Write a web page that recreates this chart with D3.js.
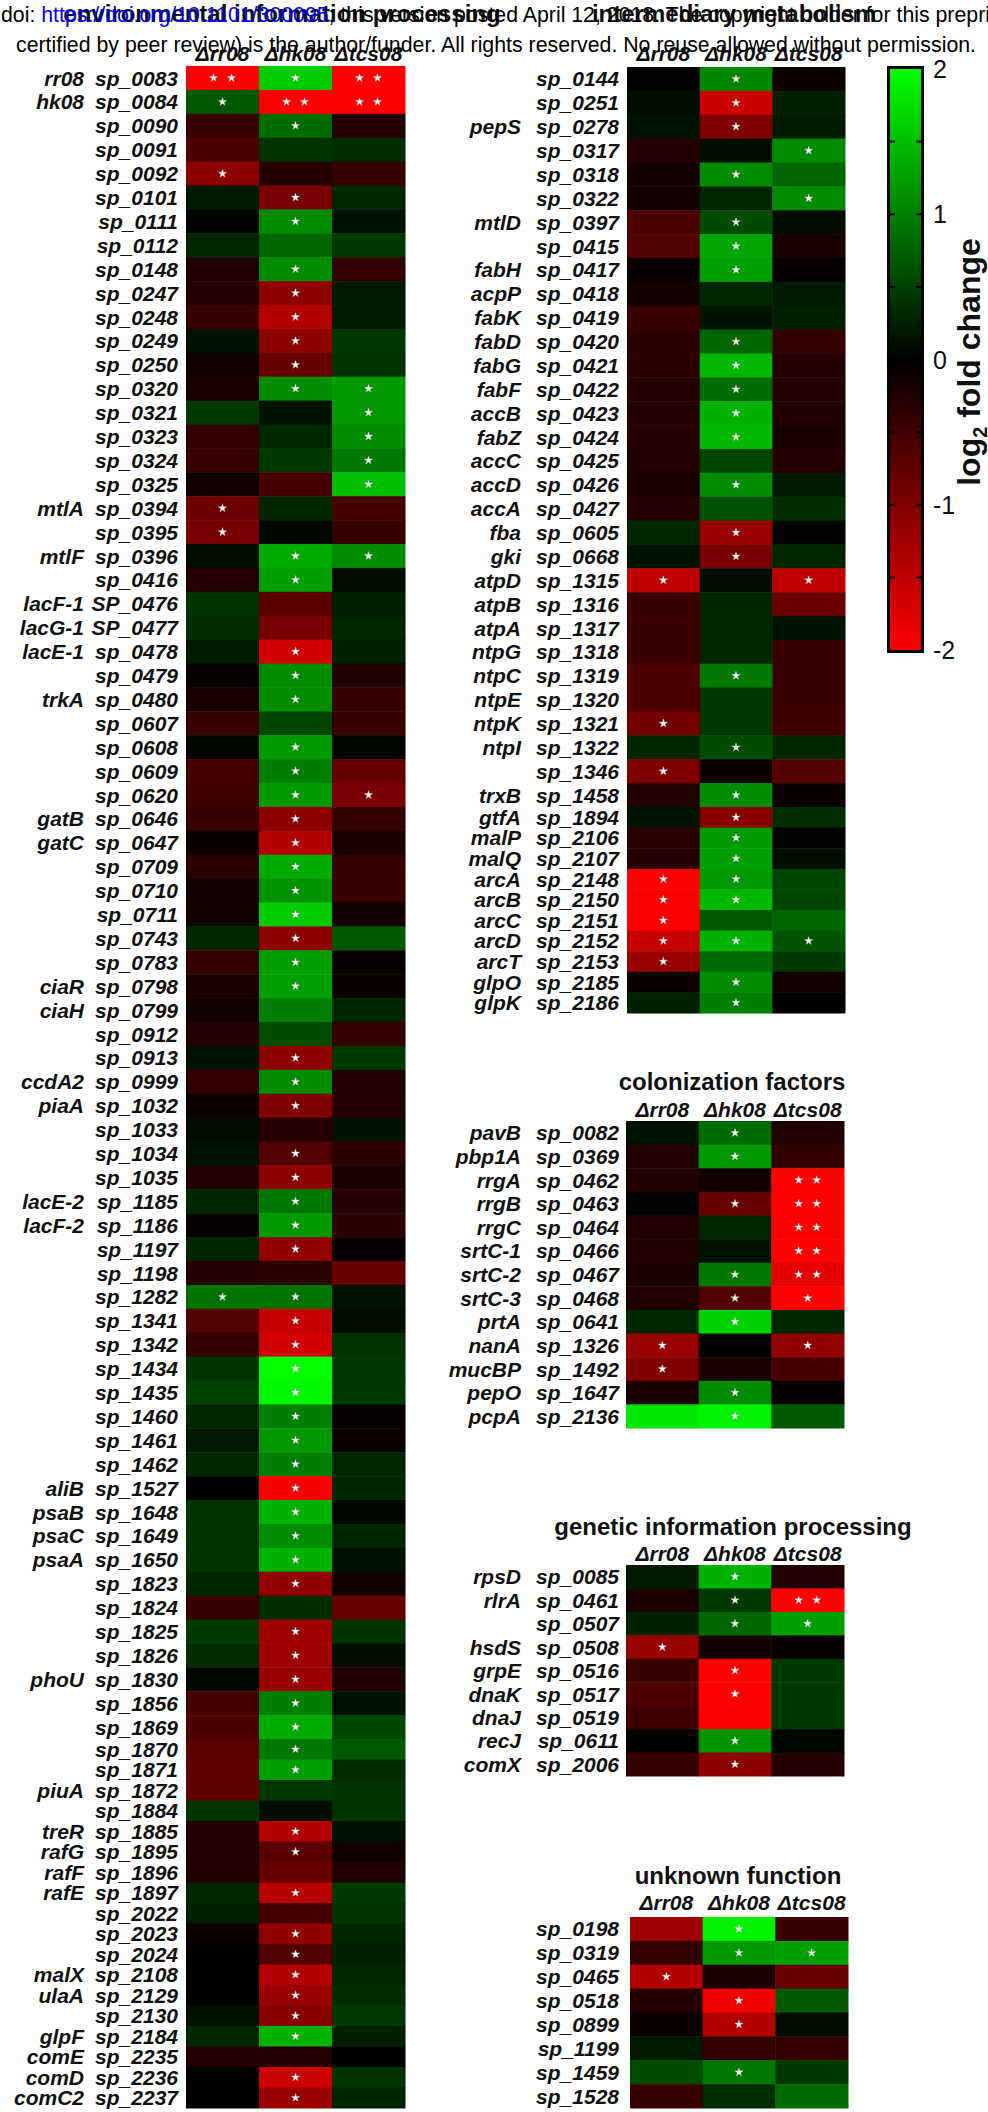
<!DOCTYPE html>
<html>
<head>
<meta charset="utf-8">
<script src="https://cdn.jsdelivr.net/npm/d3@7"></script>
<style>
  body { margin: 0; background: #ffffff; }
  svg { display: block; }
</style>
</head>
<body>
<svg id="fig" width="988" height="2112"></svg>
<script>
// ---------- strains (columns) ----------
const strains = ["\u0394rr08", "\u0394hk08", "\u0394tcs08"];

// ---------- environmental information processing ----------
const envLocus = ["sp_0083","sp_0084","sp_0090","sp_0091","sp_0092","sp_0101","sp_0111","sp_0112","sp_0148","sp_0247",
  "sp_0248","sp_0249","sp_0250","sp_0320","sp_0321","sp_0323","sp_0324","sp_0325","sp_0394","sp_0395",
  "sp_0396","sp_0416","SP_0476","SP_0477","sp_0478","sp_0479","sp_0480","sp_0607","sp_0608","sp_0609",
  "sp_0620","sp_0646","sp_0647","sp_0709","sp_0710","sp_0711","sp_0743","sp_0783","sp_0798","sp_0799",
  "sp_0912","sp_0913","sp_0999","sp_1032","sp_1033","sp_1034","sp_1035","sp_1185","sp_1186","sp_1197",
  "sp_1198","sp_1282","sp_1341","sp_1342","sp_1434","sp_1435","sp_1460","sp_1461","sp_1462","sp_1527",
  "sp_1648","sp_1649","sp_1650","sp_1823","sp_1824","sp_1825","sp_1826","sp_1830","sp_1856","sp_1869",
  "sp_1870","sp_1871","sp_1872","sp_1884","sp_1885","sp_1895","sp_1896","sp_1897","sp_2022","sp_2023",
  "sp_2024","sp_2108","sp_2129","sp_2130","sp_2184","sp_2235","sp_2236","sp_2237"];
const envGene = ["rr08","hk08","","","","","","","","",
  "","","","","","","","","mtlA","",
  "mtlF","","lacF-1","lacG-1","lacE-1","","trkA","","","",
  "","gatB","gatC","","","","","","ciaR","ciaH",
  "","","ccdA2","piaA","","","","lacE-2","lacF-2","",
  "","","","","","","","","","aliB",
  "psaB","psaC","psaA","","","","","phoU","","",
  "","","piuA","","treR","rafG","rafF","rafE","","",
  "","malX","ulaA","","glpF","comE","comD","comC2"];
const envRr08 = [-2,0.7,-0.45,-0.6,-1.1,0.2,0.02,0.3,-0.25,-0.3,
  -0.45,0.15,-0.15,-0.2,0.45,-0.4,-0.45,-0.15,-0.85,-0.95,
  0.1,-0.3,0.4,0.35,0.2,-0.05,-0.2,-0.45,0.05,-0.55,
  -0.5,-0.45,-0.1,-0.35,-0.15,-0.15,0.3,-0.45,-0.2,-0.15,
  -0.3,0.15,-0.4,-0.1,0.1,0.15,-0.25,0.3,-0.05,0.3,
  -0.3,0.9,-0.65,-0.4,0.4,0.5,0.3,0.2,0.3,0,
  0.4,0.4,0.4,0.3,-0.45,0.45,0.35,0.05,-0.55,-0.6,
  -0.7,-0.75,-0.75,0.4,-0.25,-0.25,-0.25,0.3,0.25,-0.1,
  0,0,0,0.15,0.3,-0.3,0,0];
const envHk08 = [1.6,-2,0.85,0.4,-0.3,-0.95,1.1,0.8,1.1,-1.1,
  -1.4,-1.1,-0.8,1.1,0.15,0.3,0.45,-0.55,0.3,0.05,
  1.35,1.25,-0.7,-0.95,-1.65,1.1,1.1,0.55,1.2,1.0,
  1.2,-1.1,-1.4,1.35,1.15,1.6,-1.1,1.25,1.25,1.0,
  0.6,-1.1,1.1,-1.0,-0.3,-0.65,-1.1,0.95,1.2,-1.15,
  -0.35,0.9,-1.55,-1.65,2.0,1.95,1.0,1.2,1.0,-1.95,
  1.4,1.1,1.4,-1.15,0.35,-1.25,-1.25,-1.2,1.0,1.35,
  0.95,1.25,0.45,0.1,-1.4,-0.7,-0.8,-1.45,-0.55,-1.15,
  -0.65,-1.4,-1.2,-1.05,1.4,-0.3,-1.6,-1.2];
const envTcs08 = [-2,-2,-0.3,0.35,-0.45,0.3,0.15,0.45,-0.4,0.2,
  0.2,0.45,0.4,1.2,1.2,1.1,0.95,1.5,-0.55,-0.45,
  1.1,0.1,0.25,0.3,0.25,-0.25,-0.45,-0.45,0.05,-0.8,
  -0.95,-0.4,-0.2,-0.45,-0.45,-0.15,0.7,-0.05,-0.1,0.3,
  -0.4,0.45,-0.25,-0.3,0.15,-0.35,-0.2,-0.3,-0.35,-0.05,
  -0.8,0.15,0.1,0.4,0.45,0.45,-0.05,-0.1,0.3,0.3,
  0.05,0.3,0.15,-0.15,-0.8,0.4,0.1,-0.25,0.15,0.55,
  0.7,0.35,0.4,0.4,0.15,-0.15,-0.25,0.45,0.4,0.3,
  0.25,0.3,0.35,0.45,0.25,0,0.4,0.3];
// significance markers: 0 none, 1 one star, 2 two stars
const envStarRr08 = [2,1,0,0,1,0,0,0,0,0, 0,0,0,0,0,0,0,0,1,1, 0,0,0,0,0,0,0,0,0,0,
  0,0,0,0,0,0,0,0,0,0, 0,0,0,0,0,0,0,0,0,0, 0,1,0,0,0,0,0,0,0,0,
  0,0,0,0,0,0,0,0,0,0, 0,0,0,0,0,0,0,0,0,0, 0,0,0,0,0,0,0,0];
const envStarHk08 = [1,2,1,0,0,1,1,0,1,1, 1,1,1,1,0,0,0,0,0,0, 1,1,0,0,1,1,1,0,1,1,
  1,1,1,1,1,1,1,1,1,0, 0,1,1,1,0,1,1,1,1,1, 0,1,1,1,1,1,1,1,1,1,
  1,1,1,1,0,1,1,1,1,1, 1,1,0,0,1,1,0,1,0,1, 1,1,1,1,1,0,1,1];
const envStarTcs08 = [2,2,0,0,0,0,0,0,0,0, 0,0,0,1,1,1,1,1,0,0, 1,0,0,0,0,0,0,0,0,0,
  1,0,0,0,0,0,0,0,0,0, 0,0,0,0,0,0,0,0,0,0, 0,0,0,0,0,0,0,0,0,0,
  0,0,0,0,0,0,0,0,0,0, 0,0,0,0,0,0,0,0,0,0, 0,0,0,0,0,0,0,0];

// ---------- intermediary metabolism ----------
const metLocus = ["sp_0144","sp_0251","sp_0278","sp_0317","sp_0318","sp_0322","sp_0397","sp_0415","sp_0417","sp_0418",
  "sp_0419","sp_0420","sp_0421","sp_0422","sp_0423","sp_0424","sp_0425","sp_0426","sp_0427","sp_0605",
  "sp_0668","sp_1315","sp_1316","sp_1317","sp_1318","sp_1319","sp_1320","sp_1321","sp_1322","sp_1346",
  "sp_1458","sp_1894","sp_2106","sp_2107","sp_2148","sp_2150","sp_2151","sp_2152","sp_2153","sp_2185","sp_2186"];
const metGene = ["","","pepS","","","","mtlD","","fabH","acpP",
  "fabK","fabD","fabG","fabF","accB","fabZ","accC","accD","accA","fba",
  "gki","atpD","atpB","atpA","ntpG","ntpC","ntpE","ntpK","ntpI","",
  "trxB","gtfA","malP","malQ","arcA","arcB","arcC","arcD","arcT","glpO","glpK"];
const metRr08 = [0.02,0.1,0.15,-0.3,-0.15,-0.15,-0.6,-0.65,-0.05,-0.15,
  -0.45,-0.35,-0.35,-0.3,-0.3,-0.3,-0.25,-0.2,-0.3,0.3,
  0.15,-1.5,-0.45,-0.45,-0.45,-0.6,-0.6,-0.9,0.3,-1.0,
  -0.25,0.15,-0.35,-0.3,-2,-2,-2,-1.55,-1.2,-0.1,0.25];
const metHk08 = [1.05,-1.6,-1.0,0.1,1.1,0.3,0.6,1.3,1.25,0.3,
  0.15,0.8,1.45,0.85,1.4,1.45,0.55,1.1,0.65,-1.2,
  -0.95,0.1,0.3,0.3,0.3,0.95,0.45,0.45,0.6,-0.1,
  1.1,-1.05,1.2,1.25,1.2,1.45,0.7,1.4,0.85,1.1,1.0];
const metTcs08 = [-0.1,0.25,0.2,1.1,0.8,1.1,0.1,-0.2,-0.05,0.2,
  0.25,-0.4,-0.3,-0.3,-0.25,-0.2,-0.3,0.2,0.35,0.02,
  0.3,-1.5,-0.85,0.15,-0.45,-0.45,-0.45,-0.5,0.3,-0.65,
  -0.1,0.35,0.02,0.1,0.55,0.55,0.8,0.65,0.45,-0.15,0];
const metStarRr08 = [0,0,0,0,0,0,0,0,0,0, 0,0,0,0,0,0,0,0,0,0, 0,1,0,0,0,0,0,1,0,1, 0,0,0,0,1,1,1,1,1,0,0];
const metStarHk08 = [1,1,1,0,1,0,1,1,1,0, 0,1,1,1,1,1,0,1,0,1, 1,0,0,0,0,1,0,0,1,0, 1,1,1,1,1,1,0,1,0,1,1];
const metStarTcs08 = [0,0,0,1,0,1,0,0,0,0, 0,0,0,0,0,0,0,0,0,0, 0,1,0,0,0,0,0,0,0,0, 0,0,0,0,0,0,0,1,0,0,0];

// ---------- colonization factors ----------
const colLocus = ["sp_0082","sp_0369","sp_0462","sp_0463","sp_0464","sp_0466","sp_0467","sp_0468","sp_0641","sp_1326","sp_1492","sp_1647","sp_2136"];
const colGene = ["pavB","pbp1A","rrgA","rrgB","rrgC","srtC-1","srtC-2","srtC-3","prtA","nanA","mucBP","pepO","pcpA"];
const colRr08 = [0.15,-0.25,-0.25,0.02,-0.25,-0.25,-0.2,-0.25,0.3,-1.2,-1.0,-0.2,1.8];
const colHk08 = [0.85,1.2,-0.15,-0.8,0.3,0.15,0.95,-0.65,1.65,0,-0.2,1.1,1.9];
const colTcs08 = [-0.25,-0.4,-2,-2,-2,-2,-1.8,-2,0.3,-1.15,-0.55,-0.05,0.7];
const colStarRr08 = [0,0,0,0,0,0,0,0,0,1,1,0,0];
const colStarHk08 = [1,1,0,1,0,0,1,1,1,0,0,1,1];
const colStarTcs08 = [0,0,2,2,2,2,2,1,0,1,0,0,0];

// ---------- genetic information processing ----------
const genLocus = ["sp_0085","sp_0461","sp_0507","sp_0508","sp_0516","sp_0517","sp_0519","sp_0611","sp_2006"];
const genGene = ["rpsD","rlrA","","hsdS","grpE","dnaK","dnaJ","recJ","comX"];
const genRr08 = [0.2,-0.2,0.25,-1.2,-0.45,-0.6,-0.5,0,-0.4];
const genHk08 = [1.4,0.45,0.8,-0.15,-2,-2,-2,1.15,-1.1];
const genTcs08 = [-0.25,-2,1.25,-0.05,0.45,0.45,0.45,0.05,-0.3];
const genStarRr08 = [0,0,0,1,0,0,0,0,0];
const genStarHk08 = [1,1,1,0,1,1,0,1,1];
const genStarTcs08 = [0,2,1,0,0,0,0,0,0];

// ---------- unknown function ----------
const unkLocus = ["sp_0198","sp_0319","sp_0465","sp_0518","sp_0899","sp_1199","sp_1459","sp_1528"];
const unkGene = ["","","","","","","",""];
const unkRr08 = [-1.25,-0.4,-1.4,-0.3,-0.1,0.2,0.6,-0.45];
const unkHk08 = [1.9,1.2,-0.2,-1.9,-1.4,-0.4,0.95,0.35];
const unkTcs08 = [-0.45,1.25,-0.8,0.7,0.1,-0.4,0.45,0.85];
const unkStarRr08 = [0,0,1,0,0,0,0,0];
const unkStarHk08 = [1,1,0,1,1,0,1,0];
const unkStarTcs08 = [0,1,0,0,0,0,0,0];

// ---------- colour bar ----------
const cbarTicks = [2, 1, 0, -1, -2];
const cbarMinor = [1.5, 1, 0.5, 0, -0.5, -1, -1.5];

// ---------- drawing ----------
const svg = d3.select("#fig");
const W = 988, H = 2112;
svg.append("rect").attr("width", W).attr("height", H).attr("fill", "#ffffff");

const color = d3.scaleLinear().domain([-2, 0, 2]).range(["#ff0000", "#000000", "#00ff00"]).clamp(true);
const FONT = "'Liberation Sans', Arial, Helvetica, sans-serif";

const panels = [
  { title: "environmental information processing", locus: envLocus, gene: envGene,
    values: [envRr08, envHk08, envTcs08], stars: [envStarRr08, envStarHk08, envStarTcs08],
    x: [186, 405], rowKnots: [0, 70, envLocus.length], rowPix: [66, 1739, 2108],
    titleX: 282, titleY: 22, headerY: 61, geneX: 84, locusX: 178 },
  { title: "intermediary metabolism", locus: metLocus, gene: metGene,
    values: [metRr08, metHk08, metTcs08], stars: [metStarRr08, metStarHk08, metStarTcs08],
    x: [627, 845], rowKnots: [0, 31, metLocus.length], rowPix: [67, 807, 1013],
    titleX: 734, titleY: 22, headerY: 61, geneX: 521, locusX: 619 },
  { title: "colonization factors", locus: colLocus, gene: colGene,
    values: [colRr08, colHk08, colTcs08], stars: [colStarRr08, colStarHk08, colStarTcs08],
    x: [626, 844], rowKnots: [0, colLocus.length], rowPix: [1121, 1428],
    titleX: 732, titleY: 1090, headerY: 1117, geneX: 521, locusX: 619 },
  { title: "genetic information processing", locus: genLocus, gene: genGene,
    values: [genRr08, genHk08, genTcs08], stars: [genStarRr08, genStarHk08, genStarTcs08],
    x: [626, 844], rowKnots: [0, genLocus.length], rowPix: [1565, 1776],
    titleX: 733, titleY: 1535, headerY: 1561, geneX: 521, locusX: 619 },
  { title: "unknown function", locus: unkLocus, gene: unkGene,
    values: [unkRr08, unkHk08, unkTcs08], stars: [unkStarRr08, unkStarHk08, unkStarTcs08],
    x: [630, 848], rowKnots: [0, unkLocus.length], rowPix: [1917, 2108],
    titleX: 738, titleY: 1884, headerY: 1910, geneX: 521, locusX: 619 }
];

const starPath = d3.symbol().type(d3.symbolStar).size(22)();

panels.forEach(p => {
  const g = svg.append("g");
  const xs = d3.scaleBand().domain(strains).range(p.x);
  const ys = d3.scaleLinear().domain(p.rowKnots).range(p.rowPix);
  const n = p.locus.length;

  // cells
  const cells = [];
  strains.forEach((s, j) => {
    for (let i = 0; i < n; i++) {
      cells.push({ strain: s, row: i, v: p.values[j][i], star: p.stars[j][i] });
    }
  });
  g.selectAll("rect.cell").data(cells).join("rect")
    .attr("class", "cell")
    .attr("x", d => xs(d.strain))
    .attr("y", d => ys(d.row))
    .attr("width", xs.bandwidth() + 0.5)
    .attr("height", d => ys(d.row + 1) - ys(d.row) + 0.5)
    .attr("fill", d => color(d.v));

  // significance stars
  const marks = [];
  cells.forEach(d => {
    const cx = xs(d.strain) + xs.bandwidth() / 2;
    const cy = (ys(d.row) + ys(d.row + 1)) / 2;
    if (d.star === 1) marks.push([cx, cy]);
    if (d.star === 2) { marks.push([cx - 9, cy]); marks.push([cx + 9, cy]); }
  });
  g.selectAll("path.star").data(marks).join("path")
    .attr("class", "star")
    .attr("d", starPath)
    .attr("transform", d => `translate(${d[0]},${d[1]})`)
    .attr("fill", "#ffffff")
    .attr("stroke", "#bbbbbb")
    .attr("stroke-width", 0.4);

  // row labels
  g.selectAll("text.locus").data(p.locus).join("text")
    .attr("class", "locus")
    .attr("x", p.locusX)
    .attr("y", (d, i) => (ys(i) + ys(i + 1)) / 2)
    .attr("dy", "0.36em")
    .attr("text-anchor", "end")
    .attr("font-family", FONT).attr("font-weight", "bold").attr("font-style", "italic")
    .attr("font-size", 21).attr("fill", "#111")
    .text(d => d);
  g.selectAll("text.gene").data(p.gene).join("text")
    .attr("class", "gene")
    .attr("x", p.geneX)
    .attr("y", (d, i) => (ys(i) + ys(i + 1)) / 2)
    .attr("dy", "0.36em")
    .attr("text-anchor", "end")
    .attr("font-family", FONT).attr("font-weight", "bold").attr("font-style", "italic")
    .attr("font-size", 21).attr("fill", "#111")
    .text(d => d);

  // column headers
  g.selectAll("text.hdr").data(strains).join("text")
    .attr("class", "hdr")
    .attr("x", d => xs(d) + xs.bandwidth() / 2)
    .attr("y", p.headerY)
    .attr("text-anchor", "middle")
    .attr("font-family", FONT).attr("font-weight", "bold").attr("font-style", "italic")
    .attr("font-size", 21).attr("fill", "#111")
    .text(d => d);

  // panel title
  g.append("text")
    .attr("x", p.titleX).attr("y", p.titleY)
    .attr("text-anchor", "middle")
    .attr("font-family", FONT).attr("font-weight", "bold")
    .attr("font-size", 24).attr("fill", "#111")
    .text(p.title);
});

// colour bar
const cb = svg.append("g");
const cy = d3.scaleLinear().domain([2, -2]).range([69, 650]);
const defs = svg.append("defs");
const grad = defs.append("linearGradient").attr("id", "cbarGrad")
  .attr("x1", 0).attr("y1", 0).attr("x2", 0).attr("y2", 1);
d3.range(-2, 2.001, 0.25).reverse().forEach(v => {
  grad.append("stop").attr("offset", (cy(v) - cy(2)) / (cy(-2) - cy(2))).attr("stop-color", color(v));
});
cb.append("rect").attr("x", 887).attr("y", cy(2) - 3).attr("width", 37).attr("height", cy(-2) - cy(2) + 6)
  .attr("fill", "#000");
cb.append("rect").attr("x", 890).attr("y", cy(2)).attr("width", 31).attr("height", cy(-2) - cy(2))
  .attr("fill", "url(#cbarGrad)");
cb.selectAll("line.tl").data(cbarMinor).join("line")
  .attr("x1", 890).attr("x2", 895).attr("y1", d => cy(d)).attr("y2", d => cy(d))
  .attr("stroke", "#000").attr("stroke-width", 2);
cb.selectAll("line.tr").data(cbarMinor).join("line")
  .attr("x1", 916).attr("x2", 921).attr("y1", d => cy(d)).attr("y2", d => cy(d))
  .attr("stroke", "#000").attr("stroke-width", 2);
cb.selectAll("text.tk").data(cbarTicks).join("text")
  .attr("x", 933).attr("y", d => cy(d)).attr("dy", "0.36em")
  .attr("font-family", FONT).attr("font-size", 25).attr("fill", "#111")
  .text(d => d === 0 ? "0" : (d < 0 ? "-" + Math.abs(d) : String(d)));
const lab = cb.append("text")
  .attr("transform", "translate(980,362) rotate(-90)")
  .attr("text-anchor", "middle")
  .attr("font-family", FONT).attr("font-weight", "bold").attr("font-size", 32).attr("fill", "#111");
lab.append("tspan").text("log");
lab.append("tspan").attr("font-size", 20).attr("dy", 7).text("2");
lab.append("tspan").attr("dy", -7).text(" fold change");

// preprint notice across the top
const note = svg.append("g").attr("font-family", FONT).attr("font-size", 21.3);
const l1 = note.append("text").attr("x", 1).attr("y", 22).attr("fill", "#000");
l1.append("tspan").text("doi: ");
l1.append("tspan").attr("fill", "#0000ff").text("https://doi.org/10.1101/300095");
l1.append("tspan").text("; this version posted April 12, 2018. The copyright holder for this preprint (which was not");
note.append("text").attr("x", 496).attr("y", 52).attr("text-anchor", "middle").attr("fill", "#000")
  .text("certified by peer review) is the author/funder. All rights reserved. No reuse allowed without permission.");
</script>
</body>
</html>
